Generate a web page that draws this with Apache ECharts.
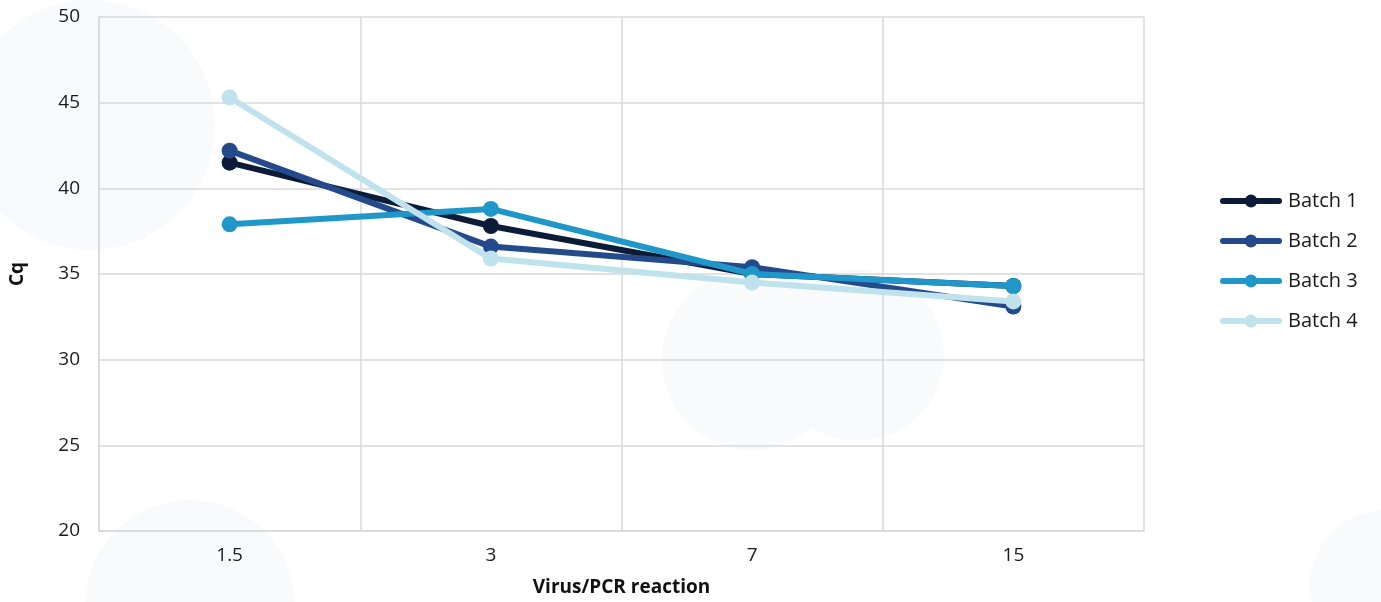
<!DOCTYPE html>
<html>
<head>
<meta charset="utf-8">
<script src="https://cdn.jsdelivr.net/npm/echarts@6/dist/echarts.min.js"></script>
<style>
html, body { margin: 0; padding: 0; background: #fff; }
#chartDiv { width: 1381px; height: 602px; }
</style>
</head>
<body>
<div id="chartDiv"></div>
<script>
// 数据
let categories = ['1.5', '3', '7', '15'];
let batch1 = [41.5, 37.8, 35.0, 34.3];
let batch2 = [42.2, 36.6, 35.4, 33.1];
let batch3 = [37.9, 38.8, 35.0, 34.3];
let batch4 = [45.3, 35.9, 34.5, 33.4];
let seriesNames = ['Batch 1', 'Batch 2', 'Batch 3', 'Batch 4'];
let seriesData = [batch1, batch2, batch3, batch4];
let colors = ['#0c1c38', '#244a8b', '#2097c9', '#bfe2ed'];

let myChart = echarts.init(document.getElementById('chartDiv'));
window.onresize = myChart.resize;

let font = '"Open Sans", Lato, sans-serif';
let bgCircle = '#f9fafc';

let series = [];
for (let i = 0; i < seriesData.length; i++) {
    series.push({
        name: seriesNames[i],
        type: 'line',
        data: seriesData[i],
        symbol: 'circle',
        symbolSize: 16,
        lineStyle: { width: 6, color: colors[i], cap: 'round' },
        itemStyle: { color: colors[i] },
        z: 3 + i
    });
}

let option = {
    backgroundColor: '#ffffff',
    animation: false,
    color: colors,
    graphic: [
        { type: 'circle', shape: { cx: 90, cy: 125, r: 125 }, style: { fill: bgCircle }, z: -10 },
        { type: 'circle', shape: { cx: 752, cy: 360, r: 90 }, style: { fill: bgCircle }, z: -10 },
        { type: 'circle', shape: { cx: 858, cy: 355, r: 86 }, style: { fill: bgCircle }, z: -10 },
        { type: 'circle', shape: { cx: 190, cy: 605, r: 105 }, style: { fill: bgCircle }, z: -10 },
        { type: 'circle', shape: { cx: 1385, cy: 585, r: 75 }, style: { fill: bgCircle }, z: -10 }
    ],
    grid: {
        left: 97,
        right: 237,
        top: 17,
        bottom: 69
    },
    legend: {
        orient: 'vertical',
        left: 1215,
        top: 186,
        itemWidth: 56,
        itemHeight: 16,
        itemGap: 20,
        lineStyle: { width: 6, cap: 'round' },
        textStyle: { fontFamily: font, fontSize: 20, color: '#1a1a1a', padding: [0, 0, 0, 4] },
        data: seriesNames
    },
    xAxis: {
        type: 'category',
        data: categories,
        boundaryGap: true,
        name: 'Virus/PCR reaction',
        nameLocation: 'middle',
        nameGap: 47,
        nameTextStyle: { fontFamily: font, fontSize: 19, fontWeight: 'bold', color: '#111' },
        axisLine: { show: true, lineStyle: { color: '#d9d9d9', width: 1.5 } },
        axisTick: { show: false },
        axisLabel: { fontFamily: font, fontSize: 19, color: '#1a1a1a', margin: 15 },
        splitLine: { show: true, lineStyle: { color: '#d9d9d9', width: 1.5 } }
    },
    yAxis: {
        type: 'value',
        min: 20,
        max: 50,
        interval: 5,
        name: 'Cq',
        nameLocation: 'middle',
        nameRotate: 90,
        nameGap: 72,
        nameTextStyle: { fontFamily: font, fontSize: 19, fontWeight: 'bold', color: '#111' },
        axisLine: { show: true, lineStyle: { color: '#d9d9d9', width: 1.5 } },
        axisTick: { show: false },
        axisLabel: { fontFamily: font, fontSize: 19, color: '#1a1a1a', margin: 19 },
        splitLine: { show: true, lineStyle: { color: '#d9d9d9', width: 1.5 } }
    },
    series: series
};
myChart.setOption(option);
</script>
</body>
</html>
